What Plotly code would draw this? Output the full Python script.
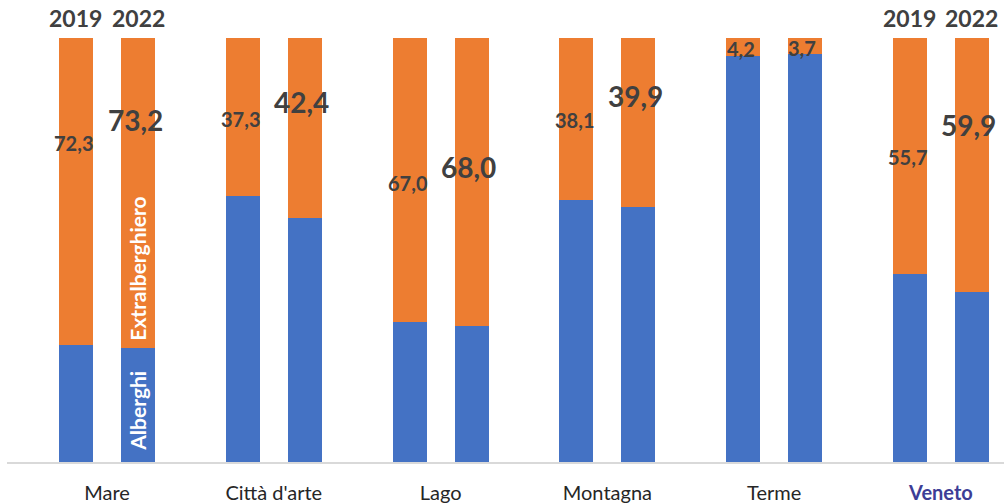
import plotly.graph_objects as go

# Share of arrivals by accommodation type (%), Veneto tourist areas
categories = ["Mare", "Città d'arte", "Lago", "Montagna", "Terme", "Veneto"]
years = ["2019", "2022"]
extra_2019 = [72.3, 37.3, 67.0, 38.1, 4.2, 55.7]
extra_2022 = [73.2, 42.4, 68.0, 39.9, 3.7, 59.9]
alberghi_2019 = [round(100 - v, 1) for v in extra_2019]
alberghi_2022 = [round(100 - v, 1) for v in extra_2022]

# Height (in % of the axis) where each value label sits, and its font size
label_y_2019 = [75.2, 80.8, 65.7, 80.6, 97.4, 72.0]
label_y_2022 = [80.6, 85.0, 69.6, 86.4, 97.7, 79.4]
label_size_2022 = [28, 28, 28, 28, 20, 28]

BLUE = "#4472C4"
ORANGE = "#ED7D31"
TEXT = "#404040"
FONT = "Lato"

OFFSET = 0.186
WIDTH = 0.204
xg = list(range(len(categories)))
x19 = [i - OFFSET for i in xg]
x22 = [i + OFFSET for i in xg]

fig = go.Figure()
for xs, alb, ext in [(x19, alberghi_2019, extra_2019), (x22, alberghi_2022, extra_2022)]:
    fig.add_trace(go.Bar(x=xs, y=alb, width=WIDTH, marker=dict(color=BLUE, line=dict(width=0)),
                         hoverinfo="skip", showlegend=False))
    fig.add_trace(go.Bar(x=xs, y=ext, width=WIDTH, marker=dict(color=ORANGE, line=dict(width=0)),
                         hoverinfo="skip", showlegend=False))

annotations = []
fmt = lambda v: f"{v:.1f}".replace(".", ",")
for i in xg:
    annotations.append(dict(x=x19[i], y=label_y_2019[i], text=f"<b>{fmt(extra_2019[i])}</b>",
                            showarrow=False, xshift=-2,
                            font=dict(family=FONT, size=20, color=TEXT)))
    annotations.append(dict(x=x22[i], y=label_y_2022[i], text=f"<b>{fmt(extra_2022[i])}</b>",
                            showarrow=False, xshift=-3,
                            font=dict(family=FONT, size=label_size_2022[i], color=TEXT)))

# Year headers over the first and last group
for g in (0, len(categories) - 1):
    for xs, yr in ((x19, years[0]), (x22, years[1])):
        annotations.append(dict(x=xs[g], y=100, yanchor="bottom", yshift=4, text=f"<b>{yr}</b>",
                                showarrow=False, font=dict(family=FONT, size=23, color=TEXT)))

# Series names written inside the Mare 2022 bar
annotations.append(dict(x=x22[0], y=12.1, text="<b>Alberghi</b>", textangle=-90,
                        showarrow=False, font=dict(family=FONT, size=21, color="white")))
annotations.append(dict(x=x22[0], y=45.6, text="<b>Extralberghiero</b>",
                        textangle=-90, showarrow=False, font=dict(family=FONT, size=21, color="white")))

ticktext = categories[:-1] + [f"<b><span style='color:#3D3D96'>{categories[-1]}</span></b>"]

fig.update_layout(
    barmode="stack",
    bargap=0,
    width=1004,
    height=504,
    margin=dict(l=7, r=0, t=38, b=38),
    paper_bgcolor="white",
    plot_bgcolor="white",
    annotations=annotations,
    xaxis=dict(range=[-0.5995, 5.378], tickvals=xg, ticktext=ticktext, showgrid=False, zeroline=False,
               showline=True, linecolor="#D9D9D9", linewidth=2, ticks="", ticklabelstandoff=12,
               tickfont=dict(family=FONT, size=20, color="#262626"), fixedrange=True),
    yaxis=dict(range=[0, 100], visible=False, fixedrange=True),
)

fig.write_html("out.html")
